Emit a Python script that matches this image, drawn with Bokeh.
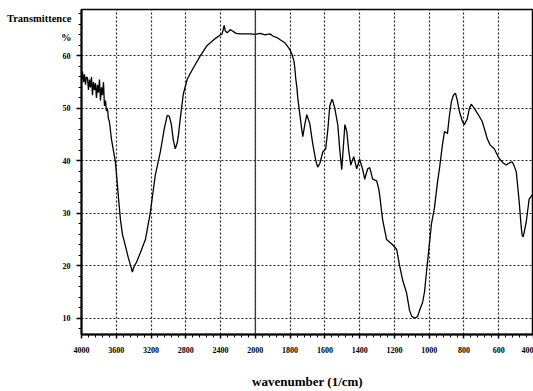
import numpy as np
from bokeh.plotting import figure
from bokeh.models import Range1d, FixedTicker, Span
from bokeh.embed import file_html
from bokeh.resources import INLINE

# ---- data ----
wavenumber = [4000, 3989, 3977, 3966, 3954, 3943, 3931, 3920, 3908, 3897, 3885, 3874, 3862, 3851,
              3839, 3828, 3816, 3805, 3793, 3782, 3770, 3759, 3747, 3736, 3724, 3713, 3702, 3690,
              3679, 3656, 3633, 3610, 3587, 3575, 3552, 3529, 3495, 3461, 3426, 3415, 3392, 3369,
              3323, 3265, 3208, 3151, 3093, 3047, 3013, 2990, 2967, 2944, 2921, 2898, 2887, 2864,
              2829, 2783, 2714, 2634, 2554, 2462, 2404, 2382, 2370, 2359, 2347, 2324, 2290, 2267,
              2221, 2175, 2117, 2060, 2003, 1973, 1944, 1916, 1899, 1876, 1853, 1830, 1807, 1790,
              1778, 1773, 1767, 1761, 1756, 1744, 1733, 1727, 1715, 1704, 1687, 1670, 1652, 1641,
              1629, 1612, 1595, 1583, 1572, 1560, 1555, 1543, 1526, 1514, 1503, 1491, 1485, 1474,
              1463, 1451, 1434, 1417, 1400, 1382, 1371, 1354, 1342, 1325, 1302, 1290, 1285, 1268,
              1245, 1227, 1210, 1187, 1170, 1153, 1130, 1113, 1101, 1084, 1067, 1050, 1038, 1027,
              1015, 998, 987, 970, 952, 941, 924, 912, 895, 884, 872, 861, 849, 838, 826, 809,
              798, 781, 769, 758, 740, 729, 712, 695, 677, 666, 649, 626, 597, 574, 557, 540,
              522, 511, 499, 482, 471, 465, 459, 442, 425, 407]
transmittance = [55.5, 57.0, 55.0, 56.5, 54.5, 56.0, 55.8, 53.5, 55.5, 54.0, 56.0, 52.5, 55.0, 53.5,
                 54.8, 52.0, 54.5, 53.0, 55.5, 51.5, 54.0, 52.5, 55.0, 50.5, 51.5, 49.5, 50.0, 48.0,
                 47.5, 44.2, 42.0, 39.8, 35.5, 33.0, 28.8, 26.0, 23.8, 21.5, 19.5, 18.8, 20.0, 20.6,
                 22.5, 25.0, 30.2, 37.3, 41.7, 46.2, 48.7, 48.5, 47.0, 44.0, 42.3, 43.5, 44.6, 48.0,
                 52.7, 55.6, 57.7, 60.0, 62.0, 63.3, 64.0, 64.2, 65.0, 65.8, 64.8, 64.4, 65.0, 64.8,
                 64.3, 64.2, 64.2, 64.2, 64.1, 64.3, 64.0, 64.2, 63.8, 63.5, 63.0, 62.5, 61.5, 60.4,
                 59.0, 57.7, 55.5, 54.0, 52.0, 48.8, 46.0, 44.6, 47.0, 48.8, 47.1, 43.3, 40.0, 38.8,
                 39.5, 41.7, 42.3, 46.0, 50.4, 51.7, 51.5, 50.0, 46.9, 42.0, 38.3, 44.0, 46.9, 45.6,
                 42.0, 39.2, 40.8, 38.5, 40.3, 38.3, 36.5, 38.5, 38.7, 36.5, 36.2, 34.6, 33.5, 28.8,
                 25.0, 24.5, 24.0, 23.1, 20.0, 17.3, 14.8, 11.5, 10.4, 10.0, 10.3, 12.0, 13.0, 15.0,
                 19.0, 24.4, 28.0, 31.0, 36.0, 38.5, 43.0, 45.6, 45.2, 48.5, 51.3, 52.5, 52.9, 51.5,
                 49.4, 47.5, 46.9, 48.0, 50.0, 50.8, 50.0, 49.4, 48.5, 47.5, 45.5, 44.2, 43.0, 42.3,
                 40.4, 39.6, 39.2, 39.6, 39.8, 39.0, 37.9, 32.1, 27.5, 25.8, 25.5, 28.3, 32.7, 33.5]
tick_wavenumbers = [4000, 3600, 3200, 2800, 2400, 2000, 1800, 1600, 1400, 1200, 1000, 800, 600, 400]
y_ticks = [10, 20, 30, 40, 50, 60]


def to_axis(w):
    """FTIR chart scale: 400 cm-1 per division above 2000, 200 cm-1 per division below."""
    w = np.asarray(w, dtype=float)
    return np.where(w >= 2000, (4000 - w) / 400.0, 5 + (2000 - w) / 200.0)


xs = to_axis(wavenumber)
tick_pos = to_axis(tick_wavenumbers)

FONT = "Liberation Serif"

p = figure(width=533, height=391, output_backend="svg", toolbar_location=None,
           x_range=Range1d(0, 13), y_range=Range1d(6.9, 68.85),
           min_border_left=81, min_border_right=0, min_border_top=9, min_border_bottom=40)
p.outline_line_color = "black"
p.outline_line_width = 1.5
p.background_fill_color = "white"
p.border_fill_color = "white"

# grid
p.xgrid.ticker = FixedTicker(ticks=list(tick_pos))
p.ygrid.ticker = FixedTicker(ticks=y_ticks)
for g in (p.xgrid, p.ygrid):
    g.grid_line_color = "#222222"
    g.grid_line_dash = "2 2"
    g.grid_line_width = 1.2

# x axis
xa = p.xaxis[0]
minor_x = [t / 5.0 for t in range(0, 66)]
xa.ticker = FixedTicker(ticks=list(tick_pos), minor_ticks=minor_x)
xa.major_label_overrides = {float(t): str(w) for t, w in zip(tick_pos, tick_wavenumbers)}
xa.axis_label = "wavenumber (1/cm)"
xa.axis_label_text_font = FONT
xa.axis_label_text_font_style = "bold"
xa.axis_label_text_font_size = "13px"
xa.axis_label_text_color = "black"
xa.axis_label_standoff = 18
xa.major_label_text_font = FONT
xa.major_label_text_font_style = "bold"
xa.major_label_text_font_size = "8px"
xa.major_label_text_color = "black"
xa.major_label_standoff = 8
xa.axis_line_width = 2
xa.axis_line_color = "black"
xa.major_tick_line_color = "black"
xa.minor_tick_line_color = "black"
xa.major_tick_out = 4
xa.major_tick_in = 0
xa.minor_tick_out = 3
xa.minor_tick_in = 0
xa.major_tick_line_width = 1.5

# y axis
ya = p.yaxis[0]
ya.ticker = FixedTicker(ticks=y_ticks, minor_ticks=list(range(8, 69, 2)))
ya.major_label_text_font = FONT
ya.major_label_text_font_style = "bold"
ya.major_label_text_font_size = "8px"
ya.major_label_text_color = "black"
ya.major_label_standoff = 6
ya.axis_line_width = 2
ya.axis_line_color = "black"
ya.major_tick_line_color = "black"
ya.minor_tick_line_color = "black"
ya.major_tick_out = 5
ya.major_tick_in = 0
ya.minor_tick_out = 3
ya.minor_tick_in = 0
ya.major_tick_line_width = 1.5

# y title: horizontal, at the top of the axis (leading blank lines push it down)
ya.axis_label = "\n\nTransmittence\n%"
ya.axis_label_orientation = "horizontal"
ya.axis_label_align = "end"
ya.axis_label_text_align = "center"
ya.axis_label_text_font = FONT
ya.axis_label_text_font_style = "bold"
ya.axis_label_text_font_size = "10.5px"
ya.axis_label_text_line_height = 1.7
ya.axis_label_text_color = "black"
ya.axis_label_standoff = -12

# solid scale-change line at 2000 cm-1
p.add_layout(Span(location=float(to_axis([2000])[0]), dimension="height",
                  line_color="#333333", line_width=1.2))

# spectrum
p.line(xs, transmittance, line_color="black", line_width=1.3)

open("out.html", "w").write(file_html(p, INLINE))
